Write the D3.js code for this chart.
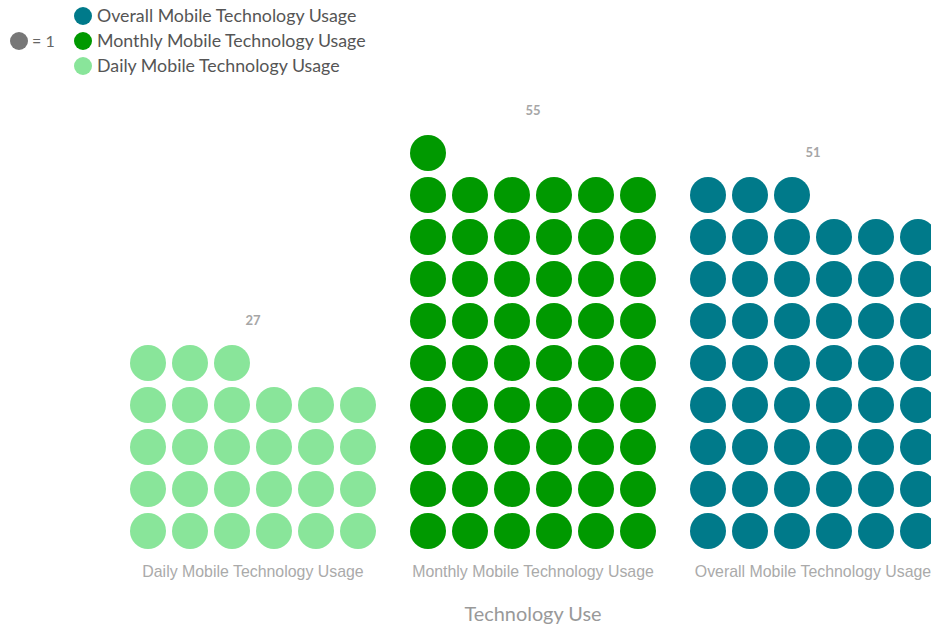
<!DOCTYPE html>
<html>
<head>
<meta charset="utf-8">
<script src="https://cdn.jsdelivr.net/npm/d3@7"></script>
<style>
  html, body { margin: 0; padding: 0; background: #fff; }
  svg { display: block; font-family: "Source Sans Pro", Lato, "Noto Sans", sans-serif; }
</style>
</head>
<body>
<svg id="chart" width="931" height="627"></svg>
<script>
// Survey counts, one dot per respondent
const categories = ["Daily Mobile Technology Usage", "Monthly Mobile Technology Usage", "Overall Mobile Technology Usage"];
const values = [27, 55, 51];
const colors = ["#89e59a", "#009900", "#007a8a"];
const legendOrder = ["Overall Mobile Technology Usage", "Monthly Mobile Technology Usage", "Daily Mobile Technology Usage"];
const unitLabel = "= 1";
const axisTitle = "Technology Use";

const perRow = 6;
const cell = 42;
const radius = 18;

const svg = d3.select("#chart");

// Horizontal bands for the categories
const x = d3.scaleBand().domain(categories).range([113, 953]).padding(0);
// Column position inside a band (0..perRow)
const col = d3.scaleLinear().domain([0, perRow]).range([-perRow * cell / 2, perRow * cell / 2]);
// Stack rows from the bottom up
const y = d3.scaleLinear().domain([0, 10]).range([552, 132]);
const color = d3.scaleOrdinal().domain(categories).range(colors);

const data = categories.map((c, i) => ({ category: c, value: values[i] }));

const groups = svg.selectAll("g.column")
  .data(data)
  .join("g")
  .attr("class", "column")
  .attr("transform", d => `translate(${x(d.category) + x.bandwidth() / 2},0)`);

groups.selectAll("circle")
  .data(d => d3.range(d.value).map(i => ({ category: d.category, c: i % perRow, r: Math.floor(i / perRow) })))
  .join("circle")
  .attr("cx", d => col(d.c + 0.5))
  .attr("cy", d => y(d.r + 0.5))
  .attr("r", radius)
  .attr("fill", d => color(d.category));

// Value labels above each stack
groups.append("text")
  .attr("x", 0)
  .attr("y", d => y(Math.ceil(d.value / perRow)) - 17.5)
  .attr("text-anchor", "middle")
  .attr("font-size", 13)
  .attr("font-weight", "bold")
  .attr("fill", "#a6a6a6")
  .text(d => d.value);

// Category axis
const axis = svg.append("g")
  .attr("transform", "translate(0,556)")
  .call(d3.axisBottom(x).tickSize(0).tickPadding(10));
axis.select(".domain").remove();
axis.selectAll("text")
  .attr("font-size", 15.9)
  .attr("font-family", "inherit")
  .attr("fill", "#aaaaaa");

svg.append("text")
  .attr("x", x(categories[1]) + x.bandwidth() / 2)
  .attr("y", 621)
  .attr("text-anchor", "middle")
  .attr("font-size", 19.9)
  .attr("fill", "#999999")
  .text(axisTitle);

// Legend
const legend = svg.append("g");
legend.append("circle").attr("cx", 19).attr("cy", 41).attr("r", 9).attr("fill", "#777777");
legend.append("text").attr("x", 32).attr("y", 47).attr("font-size", 16).attr("fill", "#666").text(unitLabel);

const items = legend.selectAll("g.item")
  .data(legendOrder)
  .join("g")
  .attr("class", "item")
  .attr("transform", (d, i) => `translate(83,${16 + i * 25})`);
items.append("circle").attr("r", 9).attr("fill", d => color(d));
items.append("text")
  .attr("x", 14)
  .attr("y", 6)
  .attr("font-size", 17.8)
  .attr("fill", "#555555")
  .text(d => d);
</script>
</body>
</html>
